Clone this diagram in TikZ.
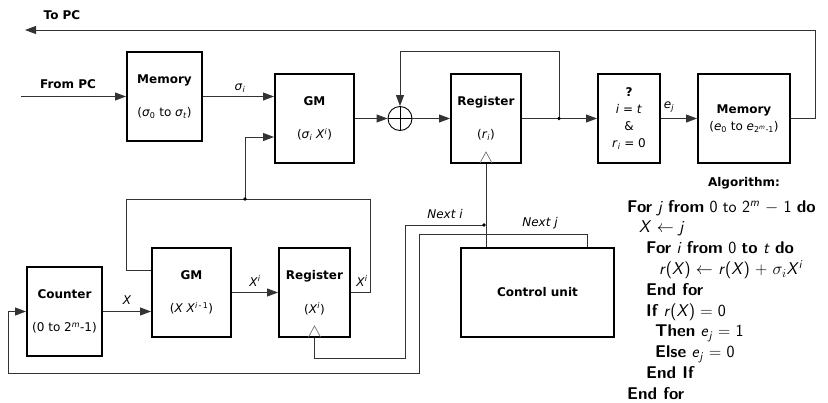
\RequirePackage{fix-cm}
\documentclass[tikz,border=0pt]{standalone}
\usepackage{amsmath,amssymb}
\usepackage{fontspec}
\setmainfont{DejaVu Sans}
\usepackage{tikz}
\usetikzlibrary{positioning,arrows.meta}
% italic variable in the running font
\newcommand\mv[1]{\textit{#1}}

\begin{document}
\begin{tikzpicture}[x=1pt,y=-1pt,font=\fontsize{12}{14.5}\selectfont,
  >={Triangle[length=11pt,width=8pt]}]
\tikzstyle{b}=[draw,line width=2pt,minimum height=89pt,inner sep=2pt,align=center]
\tikzstyle{w}=[draw=black!80,line width=0.9pt]
\tikzstyle{clk}=[draw=black!55,line width=0.7pt]
\useasboundingbox (0,0) rectangle (828,402);

% upper chain: syndrome memory, GM, adder, register, test, error memory
\node[b,minimum width=75pt] (mem) at (164.5,96.5) {\textbf{Memory}\\[19pt](\mv{σ}\textsubscript{0} to \mv{σ}\textsubscript{\mv{t}})};
\node[b,minimum width=79pt] (gm) at (314.5,118.5) {\textbf{GM}\\[19pt](\mv{σ}\textsubscript{\mv{i}} \mv{X}\textsuperscript{\mv{i}})};
\node[b,minimum width=70pt,right=95pt of gm] (reg) {\textbf{Register}\\[19pt](\mv{r}\textsubscript{\mv{i}})};
\node[b,minimum width=62pt,right=75pt of reg,font=\fontsize{12}{17}\selectfont] (chk) {\textbf{?}\\\mv{i} = \mv{t}\\\&\\\mv{r}\textsubscript{\mv{i}} = 0};
\node[b,minimum width=92pt,right=36pt of chk,font=\fontsize{12}{17}\selectfont] (memE) {\textbf{Memory}\\(\mv{e}\textsubscript{0} to \mv{e}\textsubscript{2\textsuperscript{\mv{m}}-1})};
\node[draw,circle,line width=0.9pt,minimum size=24pt,inner sep=0] (add) at (400,118.5) {};
\draw[line width=0.9pt] (add.north) -- (add.south) (add.west) -- (add.east);

% lower chain: counter, power GM, power register, control
\node[b,minimum width=75pt] (cnt) at (64.5,311.5) {\textbf{Counter}\\[19pt](0 to 2\textsuperscript{\mv{m}}-1)};
\node[b,minimum width=79pt] (gmX) at (191.5,292.5) {\textbf{GM}\\[19pt](\mv{X X}\textsuperscript{\mv{i}\,-\,1})};
\node[b,minimum width=71pt,right=46pt of gmX] (regX) {\textbf{Register}\\[19pt](\mv{X}\textsuperscript{\mv{i}})};
\node[b,minimum width=153pt,right=109pt of regX] (cu) {\textbf{Control unit}};

% clock inputs
\draw[clk] ([xshift=-6pt,yshift=1pt]reg.south) -- ++(6,-11) -- ++(6,11);
\draw[clk] ([xshift=-6pt,yshift=1pt]regX.south) -- ++(6,-11) -- ++(6,11);

% bend points
\coordinate (pc) at (25,30);
\coordinate (in) at (21,96.5);
\coordinate (fb) at (559,118.5);
\coordinate (jx) at (245,199);
\coordinate (lpA) at (126,199);
\coordinate (lpB) at (370,199);
\coordinate (ni) at (484,225);
\coordinate (ck) at (405,358);
\coordinate (nja) at (419,234);
\coordinate (njb) at (8,373);

\draw[w,->] (in) -- (mem.west);
\draw[w,->] (mem.east) -- (mem.east -| gm.west);
\draw[w,->] (jx) |- ([yshift=-18.5pt]gm.west);
\draw[w,->] (gm.east) -- (add.west);
\draw[w,->] (add.east) -- (reg.west);
\draw[w,->] (reg.east) -- (chk.west);
\draw[w,->] (fb) -- ++(0,-67.5) -| (add.north);
\draw[w,->] (chk.east) -- (memE.west);
\draw[w,->] (memE.east) -- ++(24,0) |- (pc);
\fill (fb) circle (1.8pt);

\draw[w,->] (cnt.east) -- (cnt.east -| gmX.west);
\draw[w,->] (gmX.east) -- (regX.west);
\draw[w] ([yshift=22.5pt]gmX.west) -| (lpA) -- (lpB) |- (regX.east);
\fill (jx) circle (1.8pt);

\draw[w] (reg.south) -- (reg.south |- cu.north);
\draw[w] (ni) -| (ck) -| (regX.south);
\fill (ni) circle (1.8pt);
\draw[w,->] ([xshift=49.5pt]cu.north) |- (nja) |- (njb) |- (cnt.west);

% labels
\node (topc) at (62,15) {\textbf{To PC}};
\node (frompc) at (68,84) {\textbf{From PC}};
\node (lsig) at (240,88) {\mv{σ}\textsubscript{\mv{i}}};
\node (lej) at (669,107) {\mv{e}\textsubscript{\mv{j}}};
\node (lx) at (127,300) {\mv{X}};
\node (lxi) at (255,281) {\mv{X}\textsuperscript{\mv{i}}};
\node (lxo) at (362,281) {\mv{X}\textsuperscript{\mv{i}}};
\node (lni) at (445,214) {\mv{Next i}};
\node (lnj) at (540,223) {\mv{Next j}};
\node (algt) at (744,183) {\textbf{Algorithm:}};

\node[anchor=north west,inner sep=0,align=left,font=\sffamily\fontsize{17}{20.8}\selectfont] (alg) at (627,200) {%
\textbf{For} \mv{j} \textbf{from} 0 to 2\textsuperscript{\mv{m}} $-$ 1 \textbf{do}\\
\hspace{12pt}\mv{X} $\leftarrow$ \mv{j}\\
\hspace{19pt}\textbf{For} \mv{i} \textbf{from} 0 \textbf{to} \mv{t} \textbf{do}\\
\hspace{32pt}\mv{r}(\mv{X}) $\leftarrow$ \mv{r}(\mv{X}) $+$ $\sigma_i$\mv{X}\textsuperscript{\mv{i}}\\
\hspace{19pt}\textbf{End for}\\
\hspace{19pt}\textbf{If} \mv{r}(\mv{X}) $=$ 0\\
\hspace{28pt}\textbf{Then} \mv{e}\textsubscript{\mv{j}} $=$ 1\\
\hspace{28pt}\textbf{Else} \mv{e}\textsubscript{\mv{j}} $=$ 0\\
\hspace{19pt}\textbf{End If}\\
\textbf{End for}};
\end{tikzpicture}
\end{document}
